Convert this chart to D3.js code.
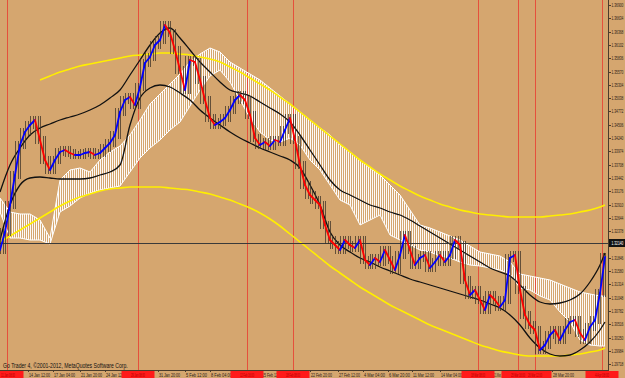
<!DOCTYPE html>
<html><head><meta charset="utf-8">
<script src="https://cdn.jsdelivr.net/npm/d3@7"></script>
<style>body{margin:0;background:#D5A66F;overflow:hidden} svg{display:block}</style>
</head><body><svg id="c" width="625" height="378"></svg>
<script>
// ---- data (EUR/USD) ----
const closes = [1.3200,1.3236,1.3290,1.3350,1.3410,1.3436,1.3450,1.3460,1.3420,1.3380,
1.3360,1.3380,1.3396,1.3400,1.3394,1.3390,1.3390,1.3394,1.3396,1.3390,
1.3394,1.3404,1.3414,1.3430,1.3476,1.3500,1.3506,1.3490,1.3526,1.3574,
1.3586,1.3610,1.3620,1.3650,1.3634,1.3600,1.3560,1.3520,1.3580,1.3576,
1.3540,1.3500,1.3464,1.3450,1.3456,1.3464,1.3480,1.3500,1.3510,1.3500,
1.3470,1.3424,1.3410,1.3416,1.3408,1.3420,1.3416,1.3440,1.3464,1.3420,
1.3370,1.3330,1.3310,1.3300,1.3290,1.3250,1.3220,1.3210,1.3200,1.3220,
1.3210,1.3204,1.3220,1.3180,1.3170,1.3184,1.3176,1.3200,1.3180,1.3160,
1.3190,1.3230,1.3200,1.3170,1.3184,1.3190,1.3164,1.3176,1.3190,1.3176,
1.3190,1.3220,1.3210,1.3140,1.3110,1.3120,1.3100,1.3080,1.3110,1.3100,
1.3086,1.3100,1.3184,1.3190,1.3120,1.3070,1.3050,1.3040,1.3000,1.3010,
1.3030,1.3040,1.3020,1.3040,1.3056,1.3060,1.3034,1.3020,1.3046,1.3060,
1.3114,1.3186];
const bandUpper = [1.3316,1.3370,1.3404,1.3430,1.3444,1.3452,1.3460,1.3466,1.3472,1.3480,
1.3490,1.3504,1.3520,1.3550,1.3580,1.3610,1.3634,1.3644,1.3624,1.3600,
1.3576,1.3556,1.3536,1.3520,1.3514,1.3508,1.3496,1.3484,1.3472,1.3456,
1.3430,1.3400,1.3370,1.3340,1.3320,1.3310,1.3300,1.3290,1.3284,1.3276,
1.3270,1.3260,1.3248,1.3236,1.3224,1.3212,1.3200,1.3188,1.3176,1.3164,
1.3156,1.3148,1.3130,1.3110,1.3096,1.3092,1.3094,1.3100,1.3112,1.3136,
1.3170,1.3194];
const bandLower = [1.3220,1.3290,1.3330,1.3344,1.3346,1.3344,1.3342,1.3342,1.3342,1.3344,
1.3350,1.3356,1.3370,1.3450,1.3504,1.3524,1.3530,1.3526,1.3514,1.3500,
1.3480,1.3464,1.3450,1.3436,1.3424,1.3414,1.3404,1.3396,1.3388,1.3380,
1.3364,1.3330,1.3290,1.3236,1.3210,1.3196,1.3184,1.3176,1.3166,1.3158,
1.3150,1.3142,1.3136,1.3130,1.3124,1.3118,1.3112,1.3106,1.3100,1.3092,
1.3084,1.3070,1.3050,1.3024,1.3004,1.2992,1.2988,1.2990,1.3000,1.3016,
1.3040,1.3056];
const yellowUpper = [1.3540,1.3548,1.3556,1.3562,1.3568,1.3572,1.3576,1.3580,1.3584,1.3588,
1.3590,1.3592,1.3594,1.3594,1.3592,1.3590,1.3586,1.3582,1.3576,1.3566,
1.3556,1.3544,1.3532,1.3520,1.3506,1.3492,1.3476,1.3460,1.3444,1.3428,
1.3412,1.3396,1.3380,1.3366,1.3352,1.3340,1.3328,1.3318,1.3308,1.3300,
1.3292,1.3286,1.3280,1.3276,1.3272,1.3270,1.3268,1.3266,1.3266,1.3266,
1.3266,1.3268,1.3270,1.3272,1.3276,1.3280,1.3286,1.3290];
const yellowLower = [1.3216,1.3228,1.3240,1.3252,1.3264,1.3276,1.3288,1.3298,1.3306,1.3312,
1.3318,1.3322,1.3324,1.3326,1.3326,1.3326,1.3326,1.3324,1.3322,1.3320,
1.3316,1.3312,1.3306,1.3300,1.3292,1.3284,1.3274,1.3262,1.3248,1.3232,
1.3216,1.3200,1.3184,1.3168,1.3154,1.3140,1.3126,1.3114,1.3102,1.3090,
1.3080,1.3070,1.3060,1.3050,1.3042,1.3034,1.3026,1.3018,1.3010,1.3004,
1.2998,1.2994,1.2990,1.2988,1.2988,1.2988,1.2988,1.2990,1.2992,1.2996,
1.3000,1.3004];
const spanA = [1.3304,1.3276,1.3272,1.3272,1.3260,1.3224,1.3340,1.3360,1.3364,1.3356,
1.3380,1.3396,1.3408,1.3430,1.3460,1.3492,1.3512,1.3532,1.3552,1.3576,
1.3592,1.3604,1.3596,1.3576,1.3564,1.3552,1.3540,1.3524,1.3508,1.3492,
1.3476,1.3460,1.3444,1.3430,1.3410,1.3396,1.3380,1.3364,1.3350,1.3330,
1.3310,1.3280,1.3250,1.3244,1.3236,1.3228,1.3220,1.3208,1.3196,1.3192,
1.3188,1.3176,1.3152,1.3148,1.3144,1.3140,1.3132,1.3124,1.3116,1.3112,
1.3108,1.3108];
const spanB = [1.3276,1.3224,1.3224,1.3220,1.3220,1.3212,1.3276,1.3288,1.3304,1.3314,
1.3320,1.3324,1.3328,1.3356,1.3384,1.3404,1.3420,1.3440,1.3456,1.3488,
1.3520,1.3548,1.3560,1.3536,1.3500,1.3464,1.3436,1.3420,1.3416,1.3424,
1.3410,1.3380,1.3360,1.3330,1.3300,1.3290,1.3250,1.3260,1.3270,1.3230,
1.3220,1.3210,1.3200,1.3196,1.3188,1.3184,1.3176,1.3170,1.3168,1.3164,
1.3160,1.3152,1.3124,1.3120,1.3108,1.3100,1.3076,1.3056,1.3020,1.3010,
1.3008,1.3008];
const currentPrice = 1.3214;
const priceTicks = [1.36900,1.36634,1.36368,1.36102,1.35836,1.35570,1.35304,1.35038,1.34772,1.34506,
1.34240,1.33974,1.33708,1.33442,1.33176,1.32910,1.32644,1.32378,1.32112,1.31846,
1.31580,1.31314,1.31048,1.30782,1.30516,1.30250,1.29984,1.29718];
const timeLabels = ["14 Jan 12:00","17 Jan 04:00","21 Jan 20:00","24 Jan 12:00","31 Jan 20:00",
"5 Feb 12:00","8 Feb 04:00","15 Feb 12:00","22 Feb 20:00","27 Feb 12:00","4 Mar 04:00",
"6 Mar 20:00","11 Mar 12:00","14 Mar 04:00","21 Mar 12:00","28 Mar 20:00"];
const timeLabelBars = [5.6,10.6,16,21,31.6,37,42,52.2,62,67.6,72.6,77.6,82.4,88,98.6,110.4];
const markerBars = [1.4,27.6,49.4,58.6,95.6,103.6,107,120.4];
const markerLabels = ["11 Jan 08:00","29 Jan 08:00","12 Feb 16:00","18 Feb 08:00",
"18 Mar 08:00","25 Mar 16:00","26 Mar 12:00","4 Apr 08:00"];

// ---- drawing ----
const W = 625, H = 378, plotR = 608, plotB = 370;
const FONT = "Liberation Sans, Arial, sans-serif";
const svg = d3.select("#c");
const nBars = closes.length;
const x = d3.scaleLinear().domain([0, nBars - 1]).range([0, 605]);
const y = d3.scaleLinear().domain([1.2960, 1.3700]).range([plotB, 0]);
const sampleIdx = d3.range(0, nBars - 1, 2).concat([nBars - 1]);
const yellowIdx = d3.range(8, nBars - 1, 2).concat([nBars - 1]);

// place a text so that its rendered width equals w (horizontal squeeze, as in the small MT4 font)
function fitText(parent, str, tx, ty, fs, w, fill) {
  const t = parent.append("text").attr("font-family", FONT).attr("font-size", fs)
    .attr("fill", fill).text(str);
  const nat = t.node().getComputedTextLength() || 1;
  t.attr("transform", `translate(${tx},${ty}) scale(${w / nat},1)`);
  return t;
}

svg.append("rect").attr("width", W).attr("height", H).attr("fill", "#D5A66F");
const defs = svg.append("defs");
defs.append("clipPath").attr("id", "clip").append("rect")
  .attr("width", plotR).attr("height", plotB);
const pat = defs.append("pattern").attr("id", "hatch").attr("width", 2).attr("height", 4)
  .attr("patternUnits", "userSpaceOnUse");
pat.append("rect").attr("width", 1).attr("height", 4).attr("fill", "#ffffff").attr("opacity", 0.95);

const g = svg.append("g").attr("clip-path", "url(#clip)");

// session marker lines
g.selectAll("line.mk").data(markerBars).join("line")
  .attr("x1", d => Math.round(x(d)) + 0.5).attr("x2", d => Math.round(x(d)) + 0.5)
  .attr("y1", 0).attr("y2", plotB).attr("stroke", "#E5503C").attr("stroke-width", 1);

// ichimoku cloud
const cloudData = sampleIdx.map((b, i) => ({b, a: spanA[i], c: spanB[i]}));
g.append("path").datum(cloudData)
  .attr("d", d3.area().x(d => x(d.b)).y0(d => y(d.a)).y1(d => y(d.c)))
  .attr("fill", "url(#hatch)");
["a", "c"].forEach(k => {
  g.append("path").datum(cloudData)
    .attr("d", d3.line().x(d => x(d.b)).y(d => y(d[k])))
    .attr("fill", "none").attr("stroke", "#ffffff").attr("stroke-width", 1);
});

// yellow envelope
const yl = (idx, arr) => d3.line().curve(d3.curveMonotoneX).x((d, i) => x(idx[i])).y(d => y(d))(arr);
g.append("path").attr("d", yl(yellowIdx, yellowUpper)).attr("fill", "none")
  .attr("stroke", "#FFEE00").attr("stroke-width", 1.6);
g.append("path").attr("d", yl(sampleIdx, yellowLower)).attr("fill", "none")
  .attr("stroke", "#FFEE00").attr("stroke-width", 1.6);

// black bands
g.append("path").attr("d", yl(sampleIdx, bandUpper)).attr("fill", "none")
  .attr("stroke", "#111").attr("stroke-width", 1.3);
g.append("path").attr("d", yl(sampleIdx, bandLower)).attr("fill", "none")
  .attr("stroke", "#111").attr("stroke-width", 1.3);

// current price line
g.append("line").attr("x1", 0).attr("x2", plotR)
  .attr("y1", Math.round(y(currentPrice)) + 0.5).attr("y2", Math.round(y(currentPrice)) + 0.5)
  .attr("stroke", "#3a3a3a").attr("stroke-width", 1);

// candle wicks
const wick = [];
for (let i = 0; i < nBars; i++) {
  const a = closes[Math.max(0, i - 1)], b = closes[i], c = closes[Math.min(nBars - 1, i + 1)];
  wick.push({xi: i, hi: Math.max(a, b, c), lo: Math.min(a, b, c)});
  if (i < nBars - 1) wick.push({xi: i + 0.5, hi: Math.max(b, c), lo: Math.min(b, c)});
}
g.selectAll("line.wk").data(wick).join("line")
  .attr("x1", d => Math.round(x(d.xi)) + 0.5).attr("x2", d => Math.round(x(d.xi)) + 0.5)
  .attr("y1", d => y(d.hi) - 4).attr("y2", d => y(d.lo) + 4)
  .attr("stroke", "#3d3328").attr("stroke-width", 1).attr("opacity", 0.75);

// price line coloured by direction
const segs = d3.range(nBars - 1).map(i => ({i, up: closes[i + 1] >= closes[i]}));
g.selectAll("line.px").data(segs).join("line")
  .attr("x1", d => x(d.i)).attr("x2", d => x(d.i + 1))
  .attr("y1", d => y(closes[d.i])).attr("y2", d => y(closes[d.i + 1]))
  .attr("stroke", d => d.up ? "#0000FF" : "#FF0000").attr("stroke-width", 1.8)
  .attr("stroke-linecap", "round");

// copyright
fitText(svg, "Go Trader 4, \u00A92001-2012, MetaQuotes Software Corp.", 3, 368, 6.5, 125, "#111");

// frame
svg.append("line").attr("x1", plotR + 0.5).attr("x2", plotR + 0.5).attr("y1", 0).attr("y2", H)
  .attr("stroke", "#4a3c2c").attr("stroke-width", 1);
svg.append("line").attr("x1", 0).attr("x2", plotR).attr("y1", plotB + 0.5).attr("y2", plotB + 0.5)
  .attr("stroke", "#4a3c2c").attr("stroke-width", 1);

// right axis
const ya = svg.append("g");
ya.selectAll("line").data(priceTicks).join("line")
  .attr("x1", plotR).attr("x2", plotR + 3)
  .attr("y1", d => Math.round(y(d)) + 0.5).attr("y2", d => Math.round(y(d)) + 0.5)
  .attr("stroke", "#4a3c2c");
priceTicks.forEach(v => fitText(ya, v.toFixed(5), plotR + 3.5, y(v) + 2, 5.5, 12, "#2a2016"));
const cp = y(currentPrice);
svg.append("rect").attr("x", plotR + 1).attr("y", cp - 4).attr("width", W - plotR).attr("height", 8)
  .attr("fill", "#111");
fitText(svg, currentPrice.toFixed(5), plotR + 3.5, cp + 2, 5.5, 12, "#fff");

// bottom time axis
const xa = svg.append("g");
xa.selectAll("line").data(timeLabelBars).join("line")
  .attr("x1", d => Math.round(x(d)) + 0.5).attr("x2", d => Math.round(x(d)) + 0.5)
  .attr("y1", plotB).attr("y2", plotB + 2).attr("stroke", "#4a3c2c");
timeLabels.forEach((s, i) => fitText(xa, s, x(timeLabelBars[i]) + 1, 376.5, 5.5,
  i === 14 ? 13 : 21, "#2a2016"));
const mk = svg.append("g");
mk.selectAll("rect").data(markerBars).join("rect")
  .attr("x", d => x(d) - 16.5).attr("y", 371).attr("width", 33).attr("height", 7)
  .attr("fill", "#FF1A1A");
markerLabels.forEach((s, i) => fitText(mk, s, Math.max(1, x(markerBars[i]) - 7), 376.5, 5.5, 14, "#B00000"));
</script></body></html>
